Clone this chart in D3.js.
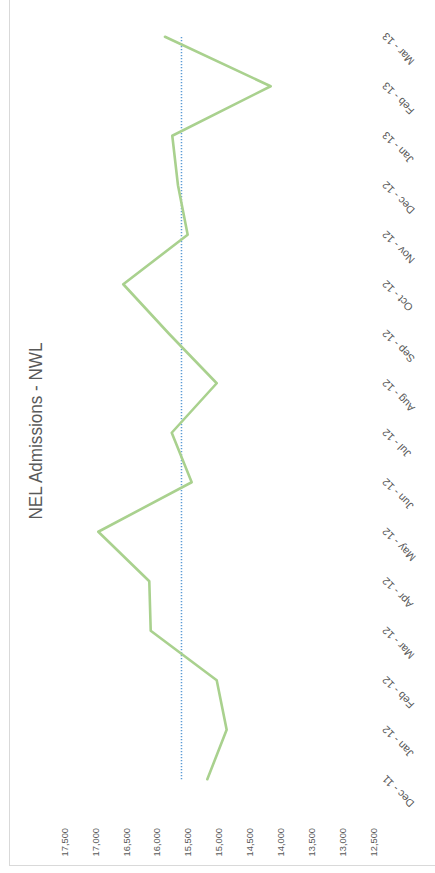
<!DOCTYPE html>
<html>
<head>
<meta charset="utf-8">
<script src="https://cdn.jsdelivr.net/npm/d3@7"></script>
<style>
  html, body { margin: 0; padding: 0; background: #fff; }
  svg { display: block; }
</style>
</head>
<body>
<svg id="chart" width="435" height="873"></svg>
<script>
// ---- data ----
const title = "NEL Admissions - NWL";
const categories = ["Dec - 11","Jan - 12","Feb - 12","Mar - 12","Apr - 12","May - 12","Jun - 12","Jul - 12","Aug - 12","Sep - 12","Oct - 12","Nov - 12","Dec - 12","Jan - 13","Feb - 13","Mar - 13"];
const admissions = [15189,14876,15037,16105,16128,16953,15442,15765,15037,15809,16549,15507,15664,15756,14164,15874];
const averageValue = [15607];
const valueTicks = [12500,13000,13500,14000,14500,15000,15500,16000,16500,17000,17500];

// ---- chart built in its own (unrotated) frame, then rotated -90deg ----
const W = 873, H = 435;
const svg = d3.select("#chart");
const g = svg.append("g").attr("transform", `translate(0,${W}) rotate(-90)`);

const x = d3.scalePoint().domain(categories).range([69, 861]).padding(0.5);
const y = d3.scaleLinear().domain([12500, 17500]).range([373.5, 64.5]);

// frame
g.append("rect")
  .attr("x", 7.5).attr("y", 9.5)
  .attr("width", W + 10).attr("height", H)
  .attr("fill", "none").attr("stroke", "#D9D9D9").attr("stroke-width", 1);

// title
g.append("text")
  .attr("x", 442).attr("y", 42)
  .attr("text-anchor", "middle")
  .attr("font-family", "Liberation Sans, Arial, sans-serif")
  .attr("font-size", 17.5)
  .attr("fill", "#595959")
  .attr("textLength", 177).attr("lengthAdjust", "spacingAndGlyphs")
  .text(title);

// value axis labels
const fmt = d3.format(",");
g.append("g").selectAll("text").data(valueTicks).join("text")
  .attr("x", 45).attr("y", d => y(d))
  .attr("dy", "0.35em")
  .attr("text-anchor", "end")
  .attr("font-family", "Liberation Sans, Arial, sans-serif")
  .attr("font-size", 9.3)
  .attr("fill", "#595959")
  .text(d => fmt(d));

// category labels (rotated -45 in chart frame)
g.append("g").selectAll("text").data(categories).join("text")
  .attr("transform", d => `translate(${x(d) + 2},${384}) rotate(-45)`)
  .attr("dy", "0.35em")
  .attr("text-anchor", "end")
  .attr("font-family", "Liberation Sans, Arial, sans-serif")
  .attr("font-size", 10.8)
  .attr("fill", "#595959")
  .text(d => d);

// average dotted line
g.append("line")
  .attr("x1", x(categories[0])).attr("x2", x(categories[categories.length - 1]))
  .attr("y1", y(averageValue[0])).attr("y2", y(averageValue[0]))
  .attr("stroke", "#5B9BD5").attr("stroke-width", 1.5)
  .attr("stroke-dasharray", "1.3,1.7");

// series line
const line = d3.line().x((d, i) => x(categories[i])).y(d => y(d));
g.append("path")
  .datum(admissions)
  .attr("d", line)
  .attr("fill", "none")
  .attr("stroke", "#A9D18E")
  .attr("stroke-width", 2.6)
  .attr("stroke-linejoin", "round")
  .attr("stroke-linecap", "round");
</script>
</body>
</html>
